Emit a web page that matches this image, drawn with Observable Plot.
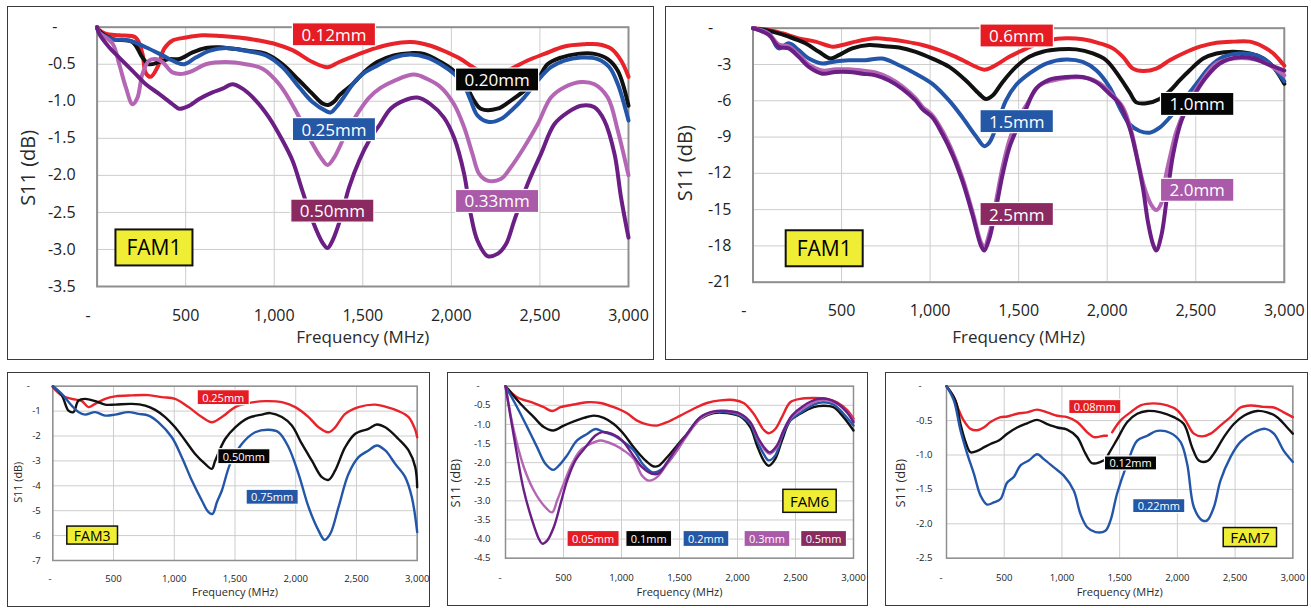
<!DOCTYPE html>
<html><head><meta charset="utf-8">
<script src="https://cdn.jsdelivr.net/npm/d3@7"></script>
<script src="https://cdn.jsdelivr.net/npm/@observablehq/plot@0.6"></script>
<style>
body{margin:0;background:#fff;font-family:"Open Sans",sans-serif;}
#page{position:relative;width:1311px;height:608px;overflow:hidden;background:#fff;}
.panel{position:absolute;box-sizing:border-box;border:1.5px solid #3a3a3a;}
.chart{position:absolute;}
</style></head><body><div id="page"></div>
<script>
// ---------- shared ticks ----------
const xTicks = [0, 500, 1000, 1500, 2000, 2500, 3000];
const fam1aYTicks = [0, -0.5, -1, -1.5, -2, -2.5, -3, -3.5];
const fam1bYTicks = [0, -3, -6, -9, -12, -15, -18, -21];
const fam3YTicks = [0, -1, -2, -3, -4, -5, -6, -7];
const fam6YTicks = [0, -0.5, -1, -1.5, -2, -2.5, -3, -3.5, -4, -4.5];
const fam7YTicks = [0, -0.5, -1, -1.5, -2, -2.5];

// ---------- FAM1 (thin layers) : [MHz, dB] ----------
const fam1a_012 = [[0,-0.02],[50,-0.09],[125,-0.11],[218,-0.14],[256,-0.36],[275,-0.62],[303,-0.67],[341,-0.54],[379,-0.29],[426,-0.18],[501,-0.14],[595,-0.11],[700,-0.12],[800,-0.14],[915,-0.18],[1010,-0.23],[1103,-0.31],[1216,-0.47],[1301,-0.54],[1367,-0.47],[1460,-0.38],[1562,-0.29],[1657,-0.23],[1770,-0.2],[1883,-0.25],[1977,-0.34],[2053,-0.43],[2109,-0.52],[2170,-0.6],[2240,-0.62],[2300,-0.6],[2355,-0.54],[2430,-0.45],[2525,-0.36],[2638,-0.26],[2751,-0.23],[2826,-0.23],[2902,-0.29],[2958,-0.45],[3000,-0.67]];
const fam1a_020 = [[0,0],[12,-0.05],[87,-0.16],[200,-0.2],[256,-0.41],[294,-0.5],[350,-0.47],[407,-0.43],[463,-0.43],[539,-0.34],[614,-0.28],[689,-0.27],[764,-0.29],[859,-0.32],[953,-0.36],[1047,-0.5],[1141,-0.72],[1216,-0.9],[1273,-1.03],[1305,-1.05],[1340,-1.0],[1367,-0.92],[1442,-0.77],[1510,-0.6],[1581,-0.47],[1675,-0.38],[1770,-0.35],[1845,-0.36],[1940,-0.47],[2015,-0.59],[2072,-0.74],[2128,-0.99],[2166,-1.1],[2260,-1.1],[2336,-0.99],[2411,-0.86],[2487,-0.7],[2543,-0.5],[2619,-0.41],[2713,-0.36],[2808,-0.36],[2883,-0.43],[2940,-0.59],[3000,-1.06]];
const fam1a_025 = [[0,0],[12,-0.07],[87,-0.16],[181,-0.18],[275,-0.27],[369,-0.38],[444,-0.47],[492,-0.5],[557,-0.41],[633,-0.32],[727,-0.28],[839,-0.32],[953,-0.38],[1047,-0.54],[1141,-0.81],[1216,-1.01],[1291,-1.13],[1320,-1.15],[1350,-1.08],[1385,-0.97],[1460,-0.72],[1506,-0.62],[1581,-0.52],[1675,-0.41],[1770,-0.37],[1864,-0.41],[1940,-0.5],[2015,-0.63],[2072,-0.79],[2109,-0.99],[2147,-1.19],[2213,-1.28],[2279,-1.24],[2336,-1.13],[2411,-0.95],[2487,-0.72],[2562,-0.54],[2638,-0.45],[2732,-0.41],[2826,-0.43],[2892,-0.54],[2940,-0.77],[3000,-1.26]];
const fam1a_033 = [[0,0],[12,-0.07],[87,-0.22],[125,-0.5],[162,-0.81],[200,-1.04],[228,-0.95],[256,-0.63],[294,-0.45],[331,-0.43],[369,-0.47],[426,-0.61],[482,-0.63],[539,-0.59],[614,-0.5],[727,-0.47],[839,-0.5],[934,-0.56],[1028,-0.77],[1122,-1.13],[1197,-1.49],[1263,-1.76],[1301,-1.86],[1338,-1.76],[1404,-1.44],[1480,-1.13],[1536,-0.95],[1600,-0.82],[1680,-0.72],[1789,-0.64],[1864,-0.7],[1940,-0.81],[2015,-1.04],[2072,-1.35],[2119,-1.71],[2157,-1.98],[2204,-2.07],[2279,-2.05],[2336,-1.89],[2411,-1.62],[2487,-1.31],[2562,-0.95],[2638,-0.81],[2732,-0.74],[2808,-0.77],[2883,-0.95],[2940,-1.4],[3000,-2.0]];
const fam1a_050 = [[0,0],[12,-0.09],[68,-0.27],[125,-0.41],[200,-0.59],[275,-0.77],[350,-0.9],[426,-1.04],[463,-1.1],[520,-1.06],[576,-0.97],[651,-0.88],[708,-0.83],[764,-0.77],[821,-0.83],[896,-0.99],[971,-1.22],[1047,-1.53],[1103,-1.8],[1159,-2.21],[1216,-2.61],[1273,-2.91],[1301,-2.98],[1329,-2.88],[1376,-2.57],[1423,-2.16],[1480,-1.8],[1536,-1.53],[1600,-1.3],[1657,-1.1],[1732,-0.99],[1808,-0.95],[1883,-1.04],[1958,-1.22],[2015,-1.49],[2072,-1.98],[2109,-2.52],[2147,-2.88],[2204,-3.09],[2260,-3.06],[2308,-2.93],[2355,-2.61],[2430,-2.12],[2506,-1.71],[2581,-1.31],[2657,-1.15],[2732,-1.06],[2808,-1.08],[2864,-1.26],[2921,-1.71],[2958,-2.3],[3000,-2.84]];

// ---------- FAM1 (thick layers) ----------
const fam1b_06 = [[0,0],[89,-0.14],[164,-0.42],[258,-0.84],[353,-1.11],[447,-1.53],[504,-1.39],[579,-1.11],[692,-0.84],[768,-0.92],[862,-1.11],[957,-1.39],[1051,-1.81],[1145,-2.37],[1240,-3.06],[1306,-3.43],[1353,-3.2],[1447,-2.37],[1504,-1.95],[1570,-1.5],[1630,-1.15],[1674,-0.97],[1768,-0.84],[1862,-0.92],[1957,-1.25],[2032,-1.67],[2089,-2.37],[2145,-3.34],[2202,-3.54],[2277,-3.34],[2353,-2.65],[2428,-2.09],[2523,-1.53],[2617,-1.2],[2711,-1.11],[2806,-1.11],[2881,-1.53],[2938,-2.09],[3000,-3.1]];
const fam1b_10 = [[0,0],[108,-0.28],[202,-0.7],[296,-1.25],[372,-1.95],[438,-2.51],[485,-2.23],[560,-1.67],[655,-1.39],[730,-1.48],[825,-1.59],[919,-1.95],[1013,-2.51],[1108,-3.2],[1202,-4.32],[1277,-5.43],[1315,-5.85],[1353,-5.57],[1409,-4.46],[1485,-3.2],[1560,-2.37],[1636,-1.95],[1730,-1.75],[1825,-1.75],[1919,-2.09],[1994,-2.65],[2070,-4.04],[2126,-5.29],[2164,-6.13],[2221,-6.21],[2296,-5.85],[2353,-5.2],[2410,-4.3],[2466,-3.48],[2542,-2.51],[2617,-2.09],[2711,-1.95],[2806,-2.09],[2881,-2.51],[2938,-3.2],[3000,-4.6]];
const fam1b_15 = [[0,0],[89,-0.42],[145,-1.67],[202,-1.25],[258,-1.81],[315,-2.51],[391,-2.92],[447,-2.79],[542,-2.65],[636,-2.65],[730,-2.51],[825,-3.06],[919,-3.76],[1013,-4.6],[1108,-5.99],[1183,-7.38],[1258,-8.91],[1306,-9.75],[1334,-9.47],[1372,-8.22],[1428,-5.99],[1485,-4.7],[1560,-3.76],[1655,-2.92],[1768,-2.59],[1862,-2.79],[1938,-3.48],[2013,-4.87],[2070,-6.55],[2126,-7.94],[2183,-8.5],[2240,-8.64],[2296,-8.22],[2353,-7.38],[2428,-5.99],[2504,-4.6],[2579,-3.2],[2655,-2.37],[2749,-2.09],[2843,-2.23],[2919,-2.92],[3000,-4.4]];
const fam1b_20 = [[0,0],[89,-0.45],[145,-1.35],[202,-1.5],[258,-2.2],[315,-3.0],[391,-3.5],[466,-3.4],[542,-3.4],[617,-3.5],[692,-3.65],[768,-4.1],[843,-4.8],[919,-5.8],[957,-6.5],[1013,-7.2],[1070,-8.5],[1126,-10.2],[1183,-12.4],[1240,-15.2],[1287,-17.7],[1306,-18.1],[1334,-17.0],[1372,-14.3],[1409,-11.5],[1447,-9.3],[1485,-7.8],[1542,-6.4],[1617,-4.74],[1692,-4.32],[1787,-4.09],[1881,-4.09],[1957,-4.54],[2032,-5.57],[2089,-6.55],[2136,-8.5],[2174,-11.0],[2211,-13.23],[2249,-14.62],[2277,-15.04],[2306,-14.48],[2325,-12.67],[2360,-10.3],[2391,-8.5],[2447,-6.55],[2523,-4.6],[2617,-2.92],[2711,-2.51],[2806,-2.51],[2900,-2.92],[3000,-3.9]];
const fam1b_25 = [[0,0],[89,-0.56],[145,-1.53],[202,-1.67],[258,-2.37],[315,-3.2],[391,-3.76],[466,-3.62],[542,-3.62],[617,-3.76],[692,-3.9],[768,-4.32],[843,-5.01],[919,-5.99],[957,-6.69],[1013,-7.38],[1070,-8.77],[1126,-10.45],[1183,-12.67],[1240,-15.46],[1287,-17.97],[1306,-18.38],[1334,-17.41],[1372,-14.9],[1409,-12.12],[1447,-9.89],[1485,-8.5],[1532,-7.0],[1598,-5.0],[1674,-4.25],[1768,-4.04],[1862,-4.04],[1938,-4.46],[2013,-5.43],[2070,-6.27],[2126,-8.22],[2164,-10.45],[2202,-13.23],[2230,-16.02],[2258,-17.83],[2277,-18.38],[2306,-17.13],[2334,-14.35],[2372,-10.45],[2419,-7.66],[2485,-5.71],[2560,-4.04],[2636,-2.92],[2730,-2.42],[2825,-2.51],[2919,-3.06],[3000,-3.5]];

// ---------- FAM3 ----------
const fam3_025 = [[0,-0.04],[74,-0.37],[156,-0.51],[239,-0.6],[294,-0.84],[349,-0.71],[431,-0.51],[513,-0.41],[651,-0.37],[788,-0.36],[898,-0.44],[1007,-0.51],[1117,-0.84],[1227,-1.24],[1309,-1.45],[1392,-1.24],[1502,-0.84],[1611,-0.68],[1749,-0.6],[1886,-0.64],[1996,-0.84],[2106,-1.24],[2188,-1.65],[2270,-1.85],[2325,-1.65],[2407,-1.11],[2517,-0.84],[2654,-0.74],[2737,-0.82],[2846,-1.0],[2929,-1.24],[2984,-1.75],[3000,-2.05]];
const fam3_050 = [[0,0],[74,-0.37],[129,-0.98],[170,-1.04],[211,-0.58],[266,-0.51],[349,-0.6],[431,-0.74],[513,-0.74],[651,-0.71],[761,-0.78],[843,-0.95],[925,-1.24],[1007,-1.65],[1090,-2.18],[1172,-2.72],[1254,-3.12],[1309,-3.32],[1337,-2.99],[1419,-2.12],[1502,-1.65],[1611,-1.27],[1721,-1.14],[1790,-1.08],[1886,-1.24],[1968,-1.58],[2051,-2.32],[2133,-2.99],[2215,-3.65],[2270,-3.76],[2325,-3.38],[2407,-2.45],[2490,-1.91],[2599,-1.71],[2668,-1.54],[2737,-1.65],[2846,-2.12],[2929,-2.58],[2984,-3.25],[3000,-4.06]];
const fam3_075 = [[0,0],[74,-0.31],[156,-0.78],[211,-1.04],[266,-1.14],[349,-1.04],[431,-1.18],[513,-1.14],[624,-1.04],[706,-1.11],[788,-1.18],[870,-1.45],[980,-2.05],[1062,-2.85],[1145,-3.79],[1227,-4.59],[1282,-5.06],[1315,-5.13],[1351,-4.66],[1392,-4.19],[1460,-3.12],[1556,-2.32],[1666,-1.85],[1776,-1.75],[1858,-1.85],[1941,-2.45],[2023,-3.52],[2106,-4.86],[2188,-5.8],[2237,-6.17],[2284,-5.93],[2352,-4.86],[2435,-3.52],[2517,-2.85],[2599,-2.58],[2668,-2.38],[2737,-2.58],[2819,-3.12],[2901,-3.65],[2956,-4.46],[3000,-5.86]];

// ---------- FAM6 ----------
const fam6_005 = [[0,0],[100,-0.29],[244,-0.44],[330,-0.55],[402,-0.65],[474,-0.55],[589,-0.48],[703,-0.42],[818,-0.44],[933,-0.55],[1048,-0.71],[1134,-0.9],[1220,-1.0],[1306,-1.03],[1393,-0.94],[1507,-0.77],[1622,-0.59],[1737,-0.44],[1852,-0.37],[1967,-0.36],[2053,-0.44],[2139,-0.72],[2225,-1.14],[2268,-1.23],[2326,-1.12],[2383,-0.81],[2455,-0.42],[2541,-0.33],[2656,-0.31],[2771,-0.33],[2857,-0.42],[2943,-0.62],[3000,-0.85]];
const fam6_01 = [[0,0],[129,-0.46],[244,-0.81],[330,-1.07],[411,-1.16],[502,-1.03],[589,-0.92],[675,-0.83],[761,-0.77],[847,-0.83],[933,-0.99],[1019,-1.25],[1105,-1.6],[1192,-1.9],[1278,-2.1],[1321,-2.08],[1393,-1.86],[1479,-1.55],[1565,-1.25],[1680,-0.85],[1794,-0.7],[1909,-0.7],[2024,-0.79],[2110,-1.07],[2168,-1.55],[2225,-1.94],[2268,-2.08],[2326,-1.9],[2383,-1.42],[2455,-0.9],[2541,-0.72],[2656,-0.55],[2742,-0.51],[2828,-0.55],[2914,-0.81],[3000,-1.16]];
const fam6_02 = [[0,0],[100,-0.55],[187,-1.07],[273,-1.6],[344,-2.03],[411,-2.19],[474,-2.03],[531,-1.81],[617,-1.42],[703,-1.25],[775,-1.12],[847,-1.2],[933,-1.29],[1019,-1.46],[1105,-1.68],[1192,-2.07],[1263,-2.25],[1321,-2.22],[1393,-2.03],[1479,-1.68],[1565,-1.25],[1680,-0.81],[1794,-0.68],[1909,-0.68],[2024,-0.77],[2110,-0.99],[2168,-1.42],[2225,-1.77],[2268,-1.94],[2326,-1.81],[2383,-1.33],[2455,-0.9],[2541,-0.7],[2656,-0.48],[2742,-0.42],[2828,-0.48],[2914,-0.72],[3000,-1.03]];
const fam6_03 = [[0,0],[72,-1.16],[158,-2.12],[244,-2.73],[330,-3.12],[402,-3.3],[445,-2.99],[502,-2.55],[574,-2.03],[646,-1.68],[732,-1.51],[818,-1.42],[876,-1.46],[947,-1.55],[1019,-1.68],[1105,-1.9],[1177,-2.34],[1235,-2.47],[1306,-2.38],[1393,-2.03],[1479,-1.68],[1565,-1.29],[1680,-0.85],[1794,-0.68],[1909,-0.65],[2024,-0.74],[2110,-0.94],[2182,-1.42],[2240,-1.68],[2277,-1.77],[2340,-1.6],[2397,-1.16],[2469,-0.81],[2570,-0.57],[2685,-0.39],[2771,-0.37],[2857,-0.46],[2943,-0.68],[3000,-0.9]];
const fam6_05 = [[0,0],[72,-1.31],[158,-2.73],[230,-3.51],[287,-3.99],[316,-4.12],[359,-4.04],[416,-3.69],[474,-3.08],[531,-2.47],[603,-1.94],[689,-1.6],[775,-1.29],[833,-1.2],[919,-1.25],[1005,-1.42],[1091,-1.77],[1177,-2.12],[1263,-2.29],[1321,-2.28],[1393,-1.99],[1479,-1.6],[1565,-1.25],[1680,-0.81],[1794,-0.66],[1909,-0.65],[2024,-0.72],[2110,-0.94],[2182,-1.38],[2240,-1.64],[2277,-1.73],[2340,-1.55],[2397,-1.16],[2469,-0.77],[2570,-0.51],[2685,-0.34],[2771,-0.33],[2857,-0.44],[2943,-0.68],[3000,-0.94]];

// ---------- FAM7 (null = break in the trace) ----------
const fam7_008 = [[0,0],[64,-0.16],[107,-0.35],[150,-0.5],[208,-0.62],[266,-0.64],[323,-0.6],[381,-0.52],[468,-0.45],[526,-0.44],[612,-0.4],[699,-0.38],[785,-0.34],[872,-0.38],[959,-0.43],[1045,-0.45],[1132,-0.52],[1219,-0.67],[1276,-0.74],[1363,-0.72],[1390,-0.72],[1410,null],[1435,-0.67],[1507,-0.5],[1594,-0.38],[1681,-0.28],[1796,-0.25],[1912,-0.28],[1998,-0.35],[2071,-0.5],[2143,-0.69],[2215,-0.73],[2287,-0.69],[2374,-0.57],[2460,-0.45],[2547,-0.31],[2634,-0.28],[2749,-0.3],[2836,-0.31],[2922,-0.38],[3000,-0.45]];
const fam7_012 = [[0,0],[78,-0.21],[121,-0.55],[165,-0.81],[208,-0.96],[266,-0.94],[323,-0.89],[381,-0.84],[453,-0.79],[526,-0.69],[612,-0.6],[699,-0.54],[785,-0.49],[872,-0.55],[959,-0.6],[1045,-0.63],[1132,-0.74],[1204,-0.98],[1262,-1.12],[1334,-1.1],[1380,-1.06],[1406,-0.98],[1479,-0.77],[1566,-0.52],[1652,-0.4],[1739,-0.36],[1855,-0.38],[1969,-0.45],[2056,-0.55],[2128,-0.89],[2186,-1.08],[2258,-1.09],[2316,-0.98],[2403,-0.74],[2489,-0.55],[2576,-0.43],[2691,-0.36],[2778,-0.38],[2865,-0.45],[2951,-0.6],[3000,-0.69]];
const fam7_022 = [[0,0],[64,-0.21],[121,-0.64],[179,-0.98],[237,-1.27],[295,-1.59],[352,-1.72],[410,-1.69],[468,-1.64],[526,-1.4],[583,-1.32],[641,-1.15],[713,-1.08],[785,-0.99],[843,-1.06],[930,-1.18],[1016,-1.3],[1103,-1.52],[1161,-1.86],[1219,-2.05],[1291,-2.12],[1377,-2.1],[1421,-1.95],[1478,-1.56],[1565,-1.13],[1652,-0.79],[1739,-0.72],[1825,-0.65],[1940,-0.68],[2027,-0.81],[2085,-1.13],[2143,-1.76],[2215,-1.95],[2258,-1.95],[2316,-1.76],[2374,-1.37],[2460,-1.03],[2547,-0.81],[2662,-0.67],[2763,-0.62],[2836,-0.69],[2922,-0.94],[3000,-1.1]];

// ---------- series labels (frequency, dB) & panel tags ----------
const fam1aLabels = [{x:1337,y:-0.11,t:"0.12mm",c:"red"},{x:2258,y:-0.72,t:"0.20mm",c:"black"},{x:1337,y:-1.39,t:"0.25mm",c:"blue"},{x:1328,y:-2.49,t:"0.50mm",c:"wine"},{x:2258,y:-2.36,t:"0.33mm",c:"lilac"}];
const fam1bLabels = [{x:1489,y:-0.69,t:"0.6mm",c:"red"},{x:2508,y:-6.35,t:"1.0mm",c:"black"},{x:1489,y:-7.77,t:"1.5mm",c:"blue"},{x:1489,y:-15.45,t:"2.5mm",c:"wine"},{x:2508,y:-13.45,t:"2.0mm",c:"lilac"}];
const fam3Labels = [{x:1403,y:-0.48,t:"0.25mm",c:"red"},{x:1573,y:-2.85,t:"0.50mm",c:"black"},{x:1806,y:-4.48,t:"0.75mm",c:"blue"}];
const fam6Labels = [{x:755,y:-4.01,t:"0.05mm",c:"red"},{x:1235,y:-4.01,t:"0.1mm",c:"black"},{x:1728,y:-4.01,t:"0.2mm",c:"blue"},{x:2254,y:-4.01,t:"0.3mm",c:"lilac"},{x:2742,y:-4.01,t:"0.5mm",c:"wine"}];
const fam7Labels = [{x:1285,y:-0.31,t:"0.08mm",c:"red"},{x:1594,y:-1.13,t:"0.12mm",c:"black"},{x:1839,y:-1.75,t:"0.22mm",c:"blue"}];
const famTags = [{x:321,y:-2.99,t:"FAM1"},{x:402,y:-18.3,t:"FAM1"},{x:324,y:-6.02,t:"FAM3"},{x:2621,y:-3.03,t:"FAM6"},{x:2628,y:-2.21,t:"FAM7"}];

const lineColor = {red:"#e8232a", black:"#111111", blue:"#2356a8", lilac:"#b466b4", purple:"#6b1f85"};
const boxColor = {red:"#e51c23", black:"#050505", blue:"#2458a6", lilac:"#a95aa8", wine:"#8a2a60"};
const FS = "\u2007";

const panels = [
  {box:[7,6,647,354], m:[20.7,26,74,89.6], yMin:-3.5, yTicks:fam1aYTicks, yFmt:d=>d===0?"-"+FS+FS:d.toFixed(1), xZero:"-"+FS+FS,
   tick:16, xPad:23, yPad:21.5, xt:{size:17,dy:51}, yt:{size:20,dx:-69,dy:11}, lw:4, frameW:2,
   series:[[fam1a_012,"red"],[fam1a_020,"black"],[fam1a_025,"blue"],[fam1a_033,"lilac"],[fam1a_050,"purple"]],
   labels:fam1aLabels, lf:17, lh:23, lp:9, tag:famTags[0], tf:21, th:36, tp:11, ts:2},
  {box:[665,6,643,354], m:[21.7,24.2,78.3,87.5], yMin:-21, yTicks:fam1bYTicks, yFmt:d=>d===0?"-"+FS+FS:String(d), xZero:"-"+FS+FS,
   tick:16, xPad:22.5, yPad:21.5, xt:{size:17,dy:55.6}, yt:{size:20,dx:-67.5,dy:8}, lw:4, frameW:2,
   series:[[fam1b_06,"red"],[fam1b_10,"black"],[fam1b_15,"blue"],[fam1b_20,"lilac"],[fam1b_25,"purple"]],
   labels:fam1bLabels, lf:17, lh:23, lp:9, tag:famTags[1], tf:21, th:36, tp:11, ts:2},
  {box:[7,372,423,235], m:[13.7,13.3,47,45.3], yMin:-7, yTicks:fam3YTicks, yFmt:d=>d===0?"-"+FS+FS:String(d), xZero:"-"+FS,
   tick:9.6, xPad:14.5, yPad:12, xt:{size:11,dy:32}, yt:{size:10.8,dx:-34,dy:9}, lw:2.4, frameW:1.5,
   series:[[fam3_025,"red"],[fam3_050,"black"],[fam3_075,"blue"]],
   labels:fam3Labels, lf:11, lh:15, lp:5, tag:famTags[2], tf:14, th:18, tp:7, ts:1.5},
  {box:[447,372,421,234], m:[13.7,15,48.3,58], yMin:-4.5, yTicks:fam6YTicks, yFmt:d=>d===0?"-"+FS+FS:d.toFixed(1), xZero:"-"+FS+FS,
   tick:9.6, xPad:15.5, yPad:15, xt:{size:11,dy:34.6}, yt:{size:12.8,dx:-50,dy:11}, lw:2.4, frameW:1.5,
   series:[[fam6_005,"red"],[fam6_01,"black"],[fam6_02,"blue"],[fam6_03,"lilac"],[fam6_05,"purple"]],
   labels:fam6Labels, lf:11, lh:16, lp:5, tag:famTags[3], tf:15, th:23, tp:7, ts:1.5},
  {box:[885,372,423,234], m:[13.7,15.7,48.3,61], yMin:-2.5, yTicks:fam7YTicks, yFmt:d=>d===0?"-"+FS+FS:d.toFixed(1), xZero:"-"+FS+FS,
   tick:9.6, xPad:15.5, yPad:14, xt:{size:11,dy:34.6}, yt:{size:12.8,dx:-46,dy:11}, lw:2.4, frameW:1.5,
   series:[[fam7_008,"red"],[fam7_012,"black"],[fam7_022,"blue"]],
   labels:fam7Labels, lf:11, lh:14, lp:5, tag:famTags[4], tf:15, th:19, tp:7, ts:1.5}
];

const page = document.getElementById("page");
const NS = "http://www.w3.org/2000/svg";

function addBoxes(svg, desc, fills, h, pad, stroke, strokeW) {
  const g = svg.querySelector(`g[aria-description="${desc}"]`);
  if (!g) return;
  const texts = Array.from(g.querySelectorAll("text"));
  texts.forEach((t, i) => {
    const b = t.getBBox();
    const r = document.createElementNS(NS, "rect");
    r.setAttribute("x", b.x - pad);
    r.setAttribute("width", b.width + 2 * pad);
    r.setAttribute("y", b.y + b.height / 2 - h / 2);
    r.setAttribute("height", h);
    r.setAttribute("fill", fills[i]);
    r.setAttribute("stroke", stroke);
    r.setAttribute("stroke-width", strokeW);
    const tr = t.getAttribute("transform");
    if (tr) r.setAttribute("transform", tr);
    t.parentNode.insertBefore(r, t);
  });
}

panels.forEach((p) => {
  const [left, top, w, h] = p.box;
  const frame = document.createElement("div");
  frame.className = "panel";
  Object.assign(frame.style, {left: left + "px", top: top + "px", width: w + "px", height: h + "px"});
  page.appendChild(frame);

  const marks = [
    Plot.ruleX(xTicks, {stroke: "#cdcdcd", strokeWidth: 1}),
    Plot.ruleY(p.yTicks, {stroke: "#cdcdcd", strokeWidth: 1}),
    Plot.frame({stroke: "#8f8f8f", strokeWidth: p.frameW}),
    ...p.series.map(([data, c]) => Plot.line(data, {
      x: d => d[0], y: d => d[1], stroke: lineColor[c], strokeWidth: p.lw,
      strokeLinejoin: "round", strokeLinecap: "round", curve: "catmull-rom"
    })),
    Plot.text(p.labels, {x: "x", y: "y", text: "t", fill: "white", fontSize: p.lf, ariaDescription: "serieslabel"}),
    Plot.text([p.tag], {x: "x", y: "y", text: "t", fill: "black", fontSize: p.tf, ariaDescription: "famtag"}),
    Plot.text(["Frequency (MHz)"], {frameAnchor: "bottom", lineAnchor: "middle", textAnchor: "middle", text: d => d, dy: p.xt.dy, fontSize: p.xt.size, fill: "#2a2a2a"}),
    Plot.text(["S11 (dB)"], {frameAnchor: "left", lineAnchor: "middle", textAnchor: "middle", text: d => d, rotate: -90, dx: p.yt.dx, dy: p.yt.dy, fontSize: p.yt.size, fill: "#2a2a2a"})
  ];

  const svg = Plot.plot({
    width: w, height: h,
    marginTop: p.m[0], marginRight: p.m[1], marginBottom: p.m[2], marginLeft: p.m[3],
    style: {fontFamily: "'Open Sans', sans-serif", fontSize: p.tick + "px", color: "#222", background: "transparent"},
    x: {domain: [0, 3000], ticks: xTicks, tickFormat: d => d === 0 ? p.xZero : d3.format(",")(d), tickSize: 0, tickPadding: p.xPad, label: null},
    y: {domain: [p.yMin, 0], ticks: p.yTicks, tickFormat: p.yFmt, tickSize: 0, tickPadding: p.yPad, label: null},
    marks
  });
  svg.classList.add("chart");
  svg.style.left = left + "px";
  svg.style.top = top + "px";
  page.appendChild(svg);

  addBoxes(svg, "serieslabel", p.labels.map(l => boxColor[l.c]), p.lh, p.lp, "white", 1.2);
  addBoxes(svg, "famtag", [ "#f0ee34" ], p.th, p.tp, "#111", p.ts);
});
</script></body></html>
